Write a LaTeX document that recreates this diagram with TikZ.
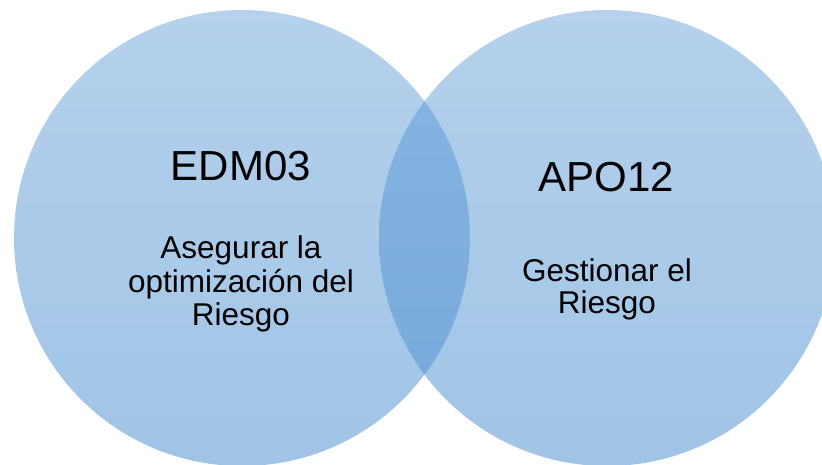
\documentclass[tikz,border=0pt]{standalone}
\usepackage{fontspec}
\setmainfont{Liberation Sans}
\definecolor{cTop}{HTML}{B5D1EC}
\definecolor{cBot}{HTML}{A0C4E6}
\definecolor{oTop}{HTML}{88B6E3}
\definecolor{oBot}{HTML}{74A8D9}
\tikzset{
  big/.style={anchor=base, inner sep=0pt, font=\fontsize{42}{48}\selectfont},
  small/.style={anchor=base, inner sep=0pt, font=\fontsize{31.5}{36}\selectfont},
  venn/.style={top color=cTop, bottom color=cBot, draw=none},
  lens/.style={top color=oTop, bottom color=oBot, draw=none}
}
\begin{document}
\begin{tikzpicture}[x=1pt,y=-1pt]
\useasboundingbox (0,0) rectangle (822,464);
\coordinate (cl) at (242,238);
\coordinate (cr) at (607,238);
\shade[venn] (cl) circle [radius=228pt];
\shade[venn] (cr) circle [radius=228pt];
\begin{scope}
  \clip (cl) circle [radius=228pt];
  \shade[lens] (cr) circle [radius=228pt];
\end{scope}
\node[big] (edm) at (241,180) {EDM03};
\node[small] (l1) at (241,258) {Asegurar la};
\node[small] (l2) at (241,292) {optimización del};
\node[small] (l3) at (241,325) {Riesgo};
\node[big] (apo) at (606,191) {APO12};
\node[small] (r1) at (607,281) {Gestionar el};
\node[small] (r2) at (607,313) {Riesgo};
\end{tikzpicture}
\end{document}
